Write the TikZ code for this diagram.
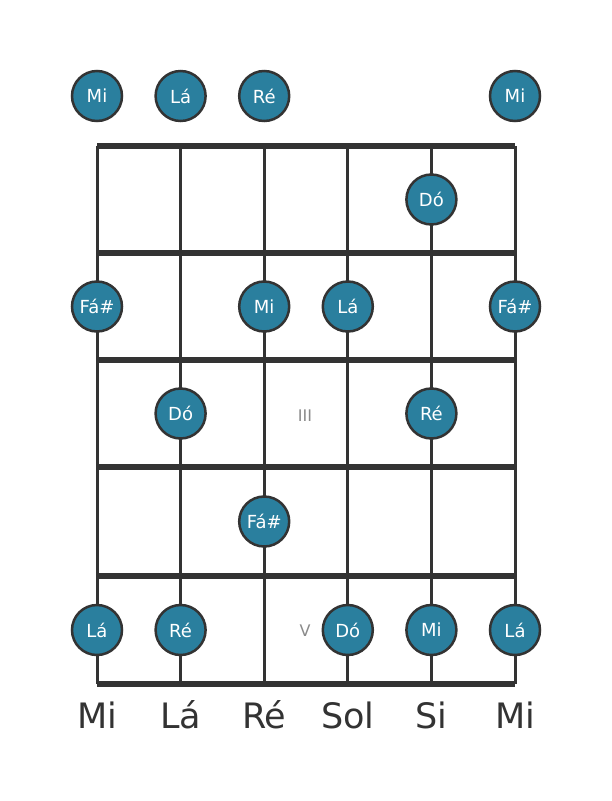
\documentclass[tikz,border=0pt]{standalone}
\usepackage{fontspec}
\setmainfont{DejaVu Sans}
\usetikzlibrary{positioning}
\definecolor{lineGray}{HTML}{333333}
\definecolor{dotTeal}{HTML}{2A7F9E}
\definecolor{markGray}{HTML}{8A8A8A}

\begin{document}
\begin{tikzpicture}[x=1pt, y=-1pt,
    stringline/.style={draw=lineGray, line width=3pt},
    fretline/.style={draw=lineGray, line width=5.5pt},
    note/.style={circle, minimum size=50pt, inner sep=0pt, draw=lineGray, line width=2.5pt, fill=dotTeal, text=white, font=\fontsize{18}{18}\selectfont},
    stringname/.style={anchor=base, text=lineGray, font=\fontsize{35}{35}\selectfont},
    fretmark/.style={text=markGray, font=\fontsize{16}{16}\selectfont},
]
\useasboundingbox (0,0) rectangle (611,801);

% Strings
\foreach \s/\x in {1/97, 2/180.6, 3/264.2, 4/347.8, 5/431.4, 6/515} {
    \coordinate (top\s) at (\x,146);
    \coordinate (bot\s) at (\x,684);
    \draw[stringline] (top\s) -- (bot\s);
}

% Frets
\foreach \f/\y in {0/146, 1/253, 2/360, 3/467, 4/576, 5/684} {
    \coordinate (fretL\f) at (97,\y);
    \coordinate (fretR\f) at (515,\y);
    \draw[fretline] (fretL\f) -- (fretR\f);
}

% Fret markers
\node[fretmark] (markIII) at (305,416) {III};
\node[fretmark] (markV) at (305,631) {V};

% Open strings
\node[note] (open1) at (97,96) {Mi};
\node[note] (open2) at (180.6,96) {Lá};
\node[note] (open3) at (264.2,96) {Ré};
\node[note] (open6) at (515,96) {Mi};

% Fret 1
\node[note] (f1s5) at (431.4,199.5) {Dó};

% Fret 2
\node[note] (f2s1) at (97,306.5) {Fá\#};
\node[note] (f2s3) at (264.2,306.5) {Mi};
\node[note] (f2s4) at (347.8,306.5) {Lá};
\node[note] (f2s6) at (515,306.5) {Fá\#};

% Fret 3
\node[note] (f3s2) at (180.6,413.5) {Dó};
\node[note] (f3s5) at (431.4,413.5) {Ré};

% Fret 4
\node[note] (f4s3) at (264.2,521.5) {Fá\#};

% Fret 5
\node[note] (f5s1) at (97,630) {Lá};
\node[note] (f5s2) at (180.6,630) {Ré};
\node[note] (f5s4) at (347.8,630) {Dó};
\node[note] (f5s5) at (431.4,630) {Mi};
\node[note] (f5s6) at (515,630) {Lá};

% String names
\node[stringname] (name1) at (97,728) {Mi};
\node[stringname] (name2) at (180.6,728) {Lá};
\node[stringname] (name3) at (264.2,728) {Ré};
\node[stringname] (name4) at (347.8,728) {Sol};
\node[stringname] (name5) at (431.4,728) {Si};
\node[stringname] (name6) at (515,728) {Mi};

\end{tikzpicture}
\end{document}
